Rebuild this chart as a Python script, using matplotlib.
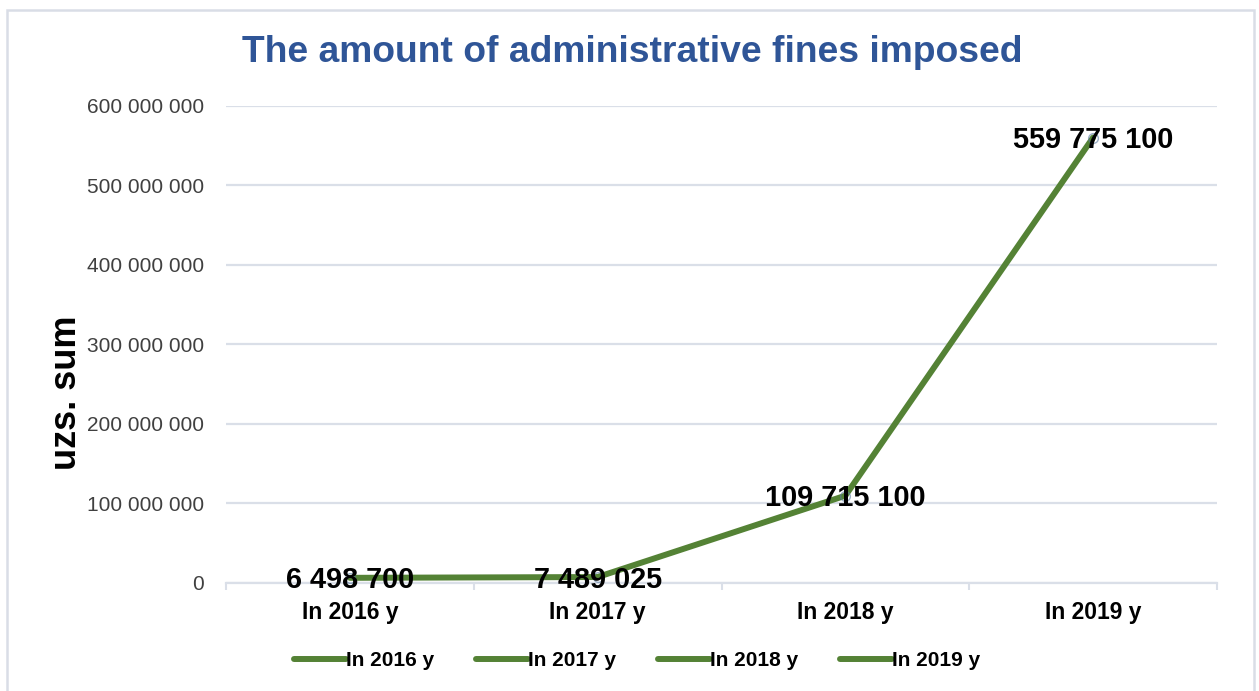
import matplotlib
matplotlib.use("Agg")
import matplotlib.pyplot as plt
from matplotlib.patches import Rectangle
from matplotlib.lines import Line2D

categories = ["In 2016 y", "In 2017 y", "In 2018 y", "In 2019 y"]
values = [6498700, 7489025, 109715100, 559775100]
value_labels = ["6 498 700", "7 489 025", "109 715 100", "559 775 100"]
yticks = [0, 100000000, 200000000, 300000000, 400000000, 500000000, 600000000]
ytick_labels = ["0", "100 000 000", "200 000 000", "300 000 000", "400 000 000", "500 000 000", "600 000 000"]
title = "The amount of administrative fines imposed"
ylabel = "uzs. sum"

plt.rcParams['font.family'] = ['Liberation Sans', 'DejaVu Sans']

W, H = 1259, 691
fig = plt.figure(figsize=(W / 100, H / 100), dpi=100)

# outer frame
fig.patches.append(Rectangle((7 / W, -0.01), (1254 - 7) / W, 1 - 10 / H + 0.01,
                             transform=fig.transFigure, fill=False,
                             edgecolor="#D9DDE6", linewidth=1.8))

left, right, top, bottom = 226, 1217, 105.5, 583
ax = fig.add_axes([left / W, 1 - bottom / H, (right - left) / W, (bottom - top) / H])

green = "#548235"
grid = "#DADFE8"

x = list(range(len(categories)))
ax.plot(x, values, color=green, linewidth=4.3, solid_capstyle="round", zorder=3)
ax.plot(x, values, linestyle="none", marker="o", markersize=7, markerfacecolor="none",
        markeredgecolor="#5B7BA0", markeredgewidth=1.0, alpha=0.6, zorder=4)

for xi, v, lab in zip(x, values, value_labels):
    ax.annotate(lab, (xi, v), xytext=(0, -1.8), textcoords="offset points",
                ha="center", va="center", fontsize=20.8,
                fontweight="bold", color="black", zorder=5)

ax.set_xlim(-0.5, len(categories) - 0.5)
ax.set_ylim(0, 600000000)
ax.set_yticks(yticks)
ax.set_yticklabels(ytick_labels, fontsize=15, color="#404040")
ax.tick_params(axis="y", length=0, pad=16)

ax.set_xticks(x)
ax.set_xticklabels(categories, fontsize=16.5, fontweight="bold", color="black")
ax.tick_params(axis="x", which="major", length=0, pad=13)
ax.set_xticks([-0.5, 0.5, 1.5, 2.5, 3.5], minor=True)
ax.tick_params(axis="x", which="minor", length=5, width=1.5, color=grid, direction="out")

ax.yaxis.grid(True, color=grid, linewidth=1.6)
ax.set_axisbelow(True)
for s in ["top", "right", "left"]:
    ax.spines[s].set_visible(False)
ax.spines["bottom"].set_color(grid)
ax.spines["bottom"].set_linewidth(1.6)

fig.text(632 / W, 1 - 52 / H, title, ha="center", va="center", fontsize=26.8,
         fontweight="bold", color="#2F5597")
fig.text(66 / W, 1 - 393 / H, ylabel, ha="center", va="center", rotation=90,
         fontsize=26, fontweight="bold", color="black")

handles = [Line2D([0], [0], color=green, linewidth=4.3, solid_capstyle="round") for _ in categories]
leg = fig.legend(handles, categories, loc="center", bbox_to_anchor=(637 / W, 1 - 661 / H),
                 ncol=4, frameon=False, prop={"size": 15, "weight": "bold"},
                 handlelength=2.5, handletextpad=0.0, columnspacing=2.0)

fig.savefig("out.png", dpi=100)
